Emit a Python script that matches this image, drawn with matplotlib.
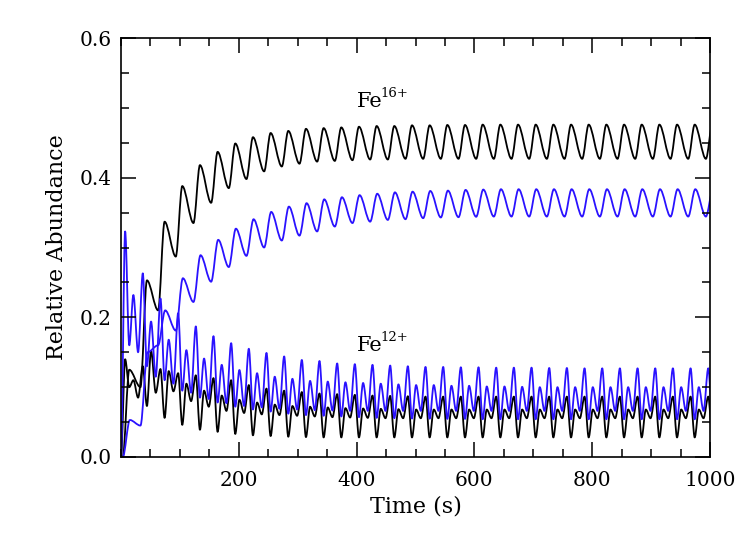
import numpy as np
import matplotlib
matplotlib.use('Agg')
import matplotlib.pyplot as plt
from matplotlib.path import Path
from matplotlib.patches import PathPatch
from matplotlib.ticker import MultipleLocator

# ---------------- data ----------------
# start time of each ~30 s heating cycle
cycle_t = [0, 30, 60, 90, 120, 150, 180, 210, 240, 270, 300, 330, 360, 390, 420,
           450, 480, 510, 540, 570, 600, 630, 660, 690, 720, 750, 780, 810, 840,
           870, 900, 930, 960, 990]

# Fe16+ (black, upper): trough at cycle+3 s, peak at cycle+14 s
fe16_blk_trough = [0.0, 0.10, 0.21, 0.287, 0.335, 0.364, 0.385, 0.398, 0.409, 0.416,
                   0.420, 0.423, 0.424, 0.425, 0.426, 0.426] + [0.427] * 18
fe16_blk_peak = [0.125, 0.253, 0.337, 0.388, 0.418, 0.437, 0.449, 0.458, 0.464, 0.467,
                 0.470, 0.471, 0.472, 0.473, 0.474, 0.474, 0.475, 0.475, 0.4755,
                 0.4755] + [0.476] * 14

# Fe16+ (blue, upper): trough at cycle+3 s, peak at cycle+15 s
fe16_blu_trough = [0.0, 0.045, 0.16, 0.181, 0.222, 0.251, 0.272, 0.288, 0.300, 0.310,
                   0.317, 0.323, 0.330, 0.335, 0.337, 0.3395, 0.3405, 0.342, 0.343,
                   0.3434, 0.344] + [0.3443] * 13
fe16_blu_peak = [0.053, 0.15, 0.21, 0.256, 0.289, 0.311, 0.327, 0.3405, 0.351, 0.3586,
                 0.3635, 0.369, 0.372, 0.375, 0.377, 0.379, 0.380, 0.381, 0.3815,
                 0.3825, 0.383] + [0.3835] * 13

# Fe12+ (blue, lower): tall peak +7 s, deep trough +14 s, small peak +21 s, trough +29 s
fe12_blu_tall = [0.323, 0.263, 0.227, 0.206, 0.187, 0.173, 0.163, 0.155, 0.149, 0.144,
                 0.139, 0.1375, 0.134, 0.133, 0.132, 0.131, 0.130, 0.129, 0.129,
                 0.1285, 0.1285, 0.128, 0.128, 0.128, 0.1275, 0.1275] + [0.127] * 8
fe12_blu_deep = [0.16, 0.13, 0.11, 0.095, 0.085, 0.078, 0.072, 0.068, 0.065, 0.062,
                 0.060, 0.059, 0.058, 0.057, 0.056, 0.0555, 0.055, 0.0548, 0.0545,
                 0.0545] + [0.054] * 14
fe12_blu_small = [0.232, 0.194, 0.168, 0.153, 0.141, 0.132, 0.1246, 0.120, 0.115, 0.112,
                  0.109, 0.108, 0.107, 0.106, 0.105, 0.104, 0.103, 0.103, 0.102, 0.102,
                  0.101, 0.101, 0.1005] + [0.100] * 11
fe12_blu_mid = [0.15, 0.115, 0.105, 0.092, 0.083, 0.077, 0.073, 0.071, 0.069, 0.068,
                0.067, 0.0665] + [0.066] * 22

# Fe12+ (black, lower)
fe12_blk_tall = [0.14, 0.13, 0.126, 0.12, 0.117, 0.113, 0.110, 0.103, 0.098, 0.095,
                 0.093, 0.091, 0.090, 0.089, 0.088, 0.0875, 0.087] + [0.0865] * 17
fe12_blk_deep = [0.10, 0.073, 0.056, 0.046, 0.039, 0.036, 0.033, 0.031, 0.030, 0.029,
                 0.0285] + [0.028] * 23
fe12_blk_small = [0.11, 0.152, 0.123, 0.105, 0.095, 0.088, 0.082, 0.078, 0.075, 0.073,
                  0.072, 0.071, 0.070, 0.0695, 0.069, 0.0685] + [0.068] * 18
fe12_blk_mid = [0.085, 0.092, 0.094, 0.080, 0.072, 0.066, 0.063, 0.061, 0.060, 0.059,
                0.058, 0.057, 0.0565, 0.056] + [0.0555] * 20

upper_offsets_blk = [3, 14]
upper_offsets_blu = [3, 15]
lower_offsets = [7, 14, 21, 29]

x_ticks = [200, 400, 600, 800, 1000]
y_ticks = [0.0, 0.2, 0.4, 0.6]
y_ticklabels = ['0.0', '0.2', '0.4', '0.6']

ion_labels = [('Fe', '16+', 400, 0.509), ('Fe', '12+', 400, 0.159)]

BLUE = '#2a12ff'


def extrema(offsets, series, start=None):
    t, y = [], []
    if start is not None:
        t.append(start[0]); y.append(start[1])
    for k, c in enumerate(cycle_t):
        for off, s in zip(offsets, series):
            t.append(c + off); y.append(s[k])
    return t, y


def draw(ax, t, y, color, lw=1.3):
    verts = [(t[0], y[0])]
    codes = [Path.MOVETO]
    for i in range(1, len(t)):
        d = (t[i] - t[i - 1]) / 3.0
        verts += [(t[i - 1] + d, y[i - 1]), (t[i] - d, y[i]), (t[i], y[i])]
        codes += [Path.CURVE4] * 3
    patch = PathPatch(Path(verts, codes), fill=False, edgecolor=color, lw=lw,
                      transform=ax.transData, joinstyle='round', capstyle='round')
    ax.add_patch(patch)


plt.rcParams['font.family'] = ['DejaVu Serif']
font = dict(family='DejaVu Serif')

fig = plt.figure(figsize=(7.47, 5.34), dpi=100)
ax = fig.add_axes([0.162, 0.1442, 0.7885, 0.7846])

t, y = extrema(upper_offsets_blk, [fe16_blk_trough, fe16_blk_peak])
draw(ax, t, y, 'black')
t, y = extrema(lower_offsets, [fe12_blk_tall, fe12_blk_deep, fe12_blk_small, fe12_blk_mid], start=(0, 0.0))
draw(ax, t, y, 'black')
t, y = extrema(upper_offsets_blu, [fe16_blu_trough, fe16_blu_peak])
draw(ax, t, y, BLUE)
t, y = extrema(lower_offsets, [fe12_blu_tall, fe12_blu_deep, fe12_blu_small, fe12_blu_mid], start=(0, 0.0))
draw(ax, t, y, BLUE)

ax.set_xlim(0, 1000)
ax.set_ylim(0, 0.6)
ax.set_xticks(x_ticks)
ax.set_xticklabels([str(v) for v in x_ticks], **font)
ax.xaxis.set_minor_locator(MultipleLocator(50))
ax.set_yticks(y_ticks)
ax.set_yticklabels(y_ticklabels, **font)
ax.yaxis.set_minor_locator(MultipleLocator(0.05))
ax.tick_params(which='both', direction='in', top=True, right=True, labelsize=14.5,
               width=1.1)
ax.tick_params(axis='x', pad=10)
ax.tick_params(axis='y', pad=7)
ax.tick_params(which='major', length=11)
ax.tick_params(which='minor', length=5.5)
for s in ax.spines.values():
    s.set_linewidth(1.2)

ax.set_xlabel('Time (s)', fontsize=16, labelpad=4, **font)
ax.set_ylabel('Relative Abundance', fontsize=16, labelpad=8, **font)

for base, sup, tx, ty in ion_labels:
    ax.text(tx, ty, base, fontsize=15, ha='left', va='center', **font)
    ax.annotate(sup, xy=(tx, ty), xytext=(24, 2), textcoords='offset pixels',
                fontsize=9.5, ha='left', va='bottom', **font)

fig.savefig('out.png', dpi=100)
